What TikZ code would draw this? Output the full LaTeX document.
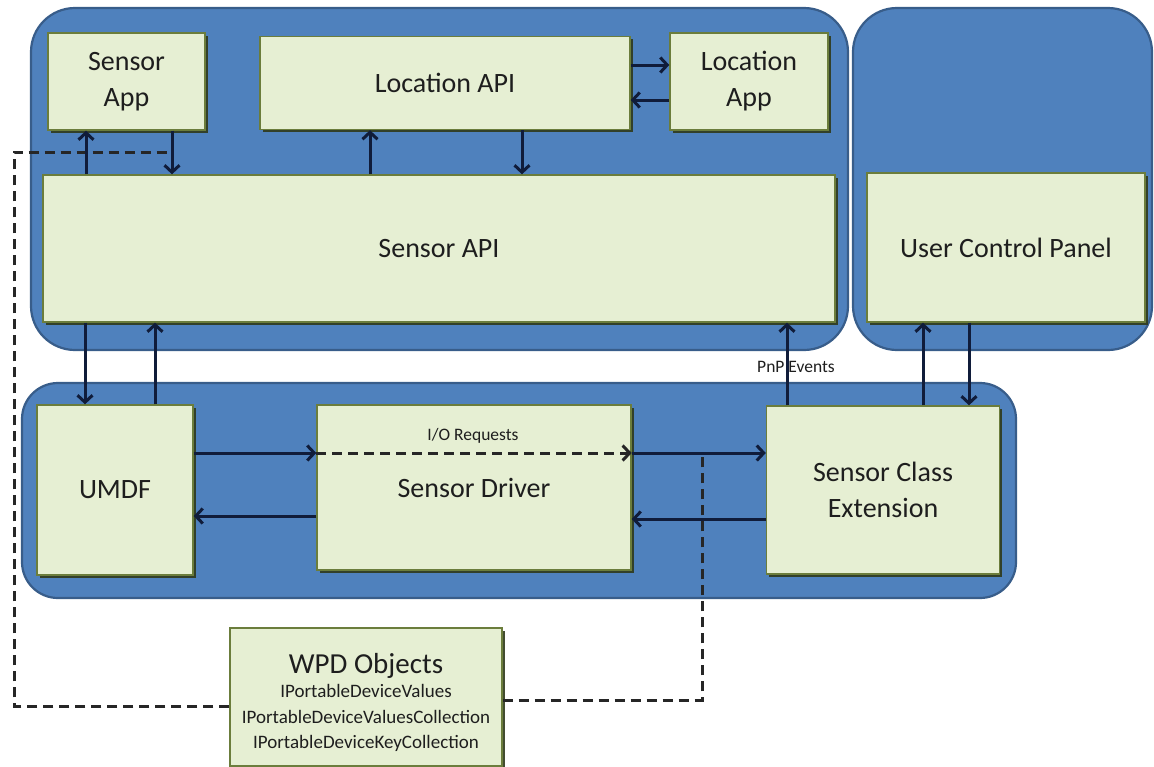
\documentclass[tikz,border=0pt]{standalone}
\usepackage{fontspec}
\setmainfont{Carlito}
\usetikzlibrary{arrows.meta,shadows}
\definecolor{contfill}{HTML}{4F81BD}
\definecolor{contedge}{HTML}{385D8A}
\definecolor{boxfill}{HTML}{E6EFD3}
\definecolor{boxedge}{HTML}{6B7D3C}
\definecolor{boxshadow}{HTML}{2F3A1A}
\definecolor{textc}{HTML}{1E1E1E}
\definecolor{arrc}{HTML}{101C3A}
\tikzset{
  cont/.style={fill=contfill, draw=contedge, line width=2.2pt, rounded corners=44pt},
  box/.style={draw=boxedge, fill=boxfill, line width=1.4pt, align=center, text=textc,
    inner sep=0pt, font=\fontsize{28}{36}\selectfont,
    drop shadow={shadow xshift=2.5pt, shadow yshift=-2.5pt, fill=boxshadow, opacity=0.9}},
  small/.style={text=textc, inner sep=0pt, font=\fontsize{17.5}{20}\selectfont},
  arr/.style={draw=arrc, line width=3pt, -{Straight Barb[length=7pt,width=15pt]}},
  dline/.style={draw=black!85, line width=3pt, dash pattern=on 10pt off 6pt},
}
\begin{document}
\begin{tikzpicture}[x=1pt,y=-1pt]
\useasboundingbox (0,0) rectangle (1154,766);
% containers
\draw[cont] (31,8) rectangle (848,350);
\draw[cont] (853,8) rectangle (1152,350);
\draw[cont, rounded corners=36pt] (22,383) rectangle (1016,598);
% boxes
\node[box, minimum width=157pt, minimum height=97pt] (sapp) at (126.5,81.5) {Sensor\\App};
\node[box, minimum width=370pt, minimum height=93pt] (lapi) at (445,83) {Location API};
\node[box, minimum width=158pt, minimum height=97pt] (lapp) at (749,81.5) {Location\\App};
\node[box, minimum width=792pt, minimum height=147pt] (sapi) at (439,248.5) {Sensor API};
\node[box, minimum width=278pt, minimum height=149pt] (ucp) at (1006,247.5) {User Control Panel};
\node[box, minimum width=156pt, minimum height=170pt] (umdf) at (115,490) {UMDF};
\node[box, minimum width=314pt, minimum height=165pt] (drv) at (474,487.5) {Sensor Driver};
\node[box, minimum width=233pt, minimum height=168pt] (sce) at (883,490) {Sensor Class\\Extension};
\node[box, minimum width=272pt, minimum height=138pt] (wpd) at (366,697) {};
\node[text=textc, font=\fontsize{29}{32}\selectfont, inner sep=0pt] (wpdt) at (366,666) {WPD Objects};
\node[text=textc, font=\fontsize{19}{25.5}\selectfont, align=center, inner sep=0pt] (wpdl) at (366,718)
  {IPortableDeviceValues\\IPortableDeviceValuesCollection\\IPortableDeviceKeyCollection};
% helper coordinates
\coordinate (x86) at (86,0);
\coordinate (x172) at (172,0);
\coordinate (x370) at (370,0);
\coordinate (x522) at (522,0);
\coordinate (x85) at (85,0);
\coordinate (x155) at (155,0);
\coordinate (x787) at (787,0);
\coordinate (x923) at (923,0);
\coordinate (x969) at (969,0);
\coordinate (x702) at (702,0);
\coordinate (x14) at (14,0);
\coordinate (y65) at (0,65);
\coordinate (y100) at (0,100);
\coordinate (io) at (0,453);
\coordinate (r1) at (0,516);
\coordinate (r2) at (0,519);
\coordinate (d1) at (0,700);
\coordinate (d2) at (0,706);
\coordinate (d3) at (0,152);
% dashed lines
\draw[dline] (wpd.west |- d2) -- (x14 |- d2) -- (x14 |- d3) -- (x172 |- d3);
\draw[dline] (wpd.east |- d1) -- (x702 |- d1) -- ([yshift=-4pt]x702 |- io);
% arrows top
\draw[arr] (sapi.north -| x86) -- (sapp.south -| x86);
\draw[arr] (sapp.south -| x172) -- (sapi.north -| x172);
\draw[arr] (sapi.north -| x370) -- (lapi.south -| x370);
\draw[arr] (lapi.south -| x522) -- (sapi.north -| x522);
\draw[arr] (lapi.east |- y65) -- (lapp.west |- y65);
\draw[arr] (lapp.west |- y100) -- (lapi.east |- y100);
% arrows middle
\draw[arr] (sapi.south -| x85) -- (umdf.north -| x85);
\draw[arr] (umdf.north -| x155) -- (sapi.south -| x155);
\node[small] (pnp) at (796,367) {PnP Events};
\draw[arr] (sce.north -| x787) -- (sapi.south -| x787);
\draw[arr] (sce.north -| x923) -- (ucp.south -| x923);
\draw[arr] (ucp.south -| x969) -- (sce.north -| x969);
% arrows bottom
\draw[arr] (umdf.east |- io) -- (drv.west |- io);
\draw[dline, -{Straight Barb[length=7pt,width=15pt]}] (drv.west |- io) -- (drv.east |- io);
\draw[arr] (drv.east |- io) -- (sce.west |- io);
\node[small] (iolab) at (473,436) {I/O Requests};
\draw[arr] (drv.west |- r1) -- (umdf.east |- r1);
\draw[arr] (sce.west |- r2) -- (drv.east |- r2);
\end{tikzpicture}
\end{document}
